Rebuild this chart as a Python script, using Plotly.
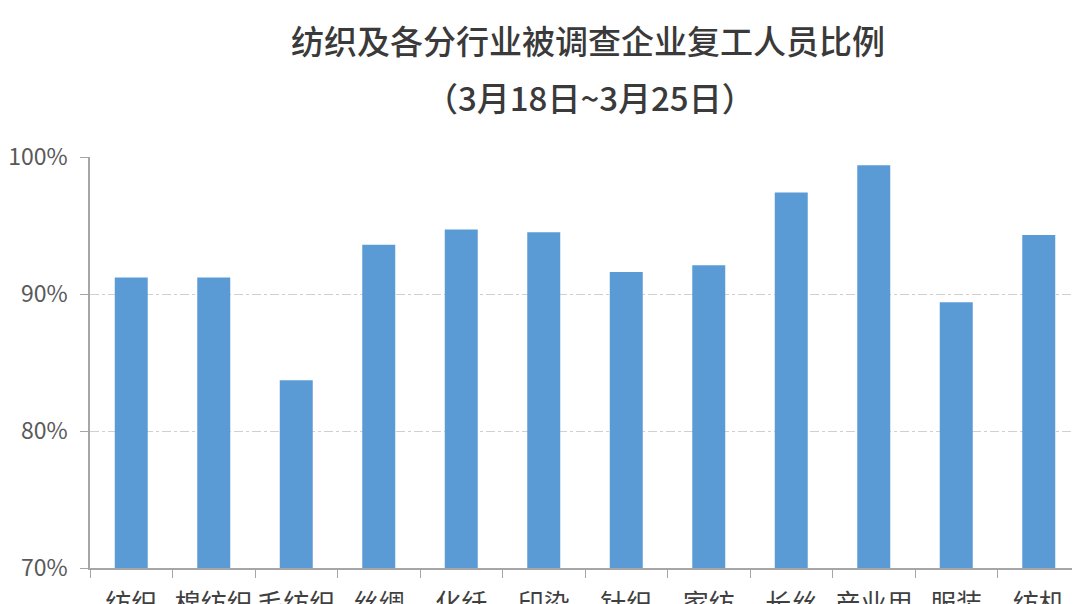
import plotly.graph_objects as go

categories = ["纺织", "棉纺织", "毛纺织", "丝绸", "化纤", "印染", "针织", "家纺", "长丝", "产业用", "服装", "纺机"]
values = [91.2, 91.2, 83.7, 93.6, 94.7, 94.5, 91.6, 92.1, 97.4, 99.4, 89.4, 94.3]
y_ticks = [70, 80, 90, 100]
y_tick_labels = ["70%", "80%", "90%", "100%"]
title_line1 = "纺织及各分行业被调查企业复工人员比例"
title_line2 = "（3月18日~3月25日）"

FONT = "Noto Sans CJK SC"

# The page body has an 8px margin, so the figure sits at (8, 8) in the window.
OFF = 8
W, H = 1080 - OFF, 604 - OFF
L, T, B, R = 90 - OFF, 157 - OFF, H - (568 - OFF), 0
pw, ph = W - L - R, H - T - B


def px_to_paper(xp, yp):
    return (xp - OFF - L) / pw, (H - B - (yp - OFF)) / ph


fig = go.Figure(
    go.Bar(
        x=categories,
        y=values,
        marker=dict(color="#5B9BD5", line=dict(width=0)),
        hoverinfo="skip",
    )
)

annos = []
for text, (xp, yp) in [(title_line1, (588, 40)), (title_line2, (590, 97))]:
    ax, ay = px_to_paper(xp, yp)
    annos.append(dict(text=text, x=ax, y=ay, xref="paper", yref="paper",
                      xanchor="center", yanchor="middle", showarrow=False,
                      font=dict(size=33, color="#3A3A3A", family=FONT, weight=500)))

fig.update_layout(
    template="none",
    width=W,
    height=H,
    margin=dict(l=L, r=R, t=T, b=B, pad=0),
    paper_bgcolor="white",
    plot_bgcolor="white",
    bargap=0.6,
    showlegend=False,
    font=dict(family=FONT, color="#595959"),
    annotations=annos,
)

fig.update_xaxes(
    type="category",
    showline=True,
    linecolor="#A6A6A6",
    linewidth=1.5,
    showgrid=False,
    ticks="outside",
    tickson="boundaries",
    ticklen=8,
    tickcolor="#A6A6A6",
    tickangle=0,
    tickfont=dict(size=26, color="#404040", family=FONT),
    ticklabelstandoff=12,
    automargin=False,
    zeroline=False,
)
fig.update_yaxes(
    range=[70, 100],
    tickvals=y_ticks,
    ticktext=y_tick_labels,
    showline=True,
    linecolor="#A6A6A6",
    linewidth=1.5,
    showgrid=True,
    gridcolor="#D0D0D0",
    gridwidth=1,
    griddash="dashdot",
    ticks="outside",
    ticklen=8,
    tickcolor="#A6A6A6",
    tickfont=dict(size=23, color="#595959", family=FONT),
    ticklabelstandoff=8,
    automargin=False,
    zeroline=False,
)

fig.write_html("out.html")
